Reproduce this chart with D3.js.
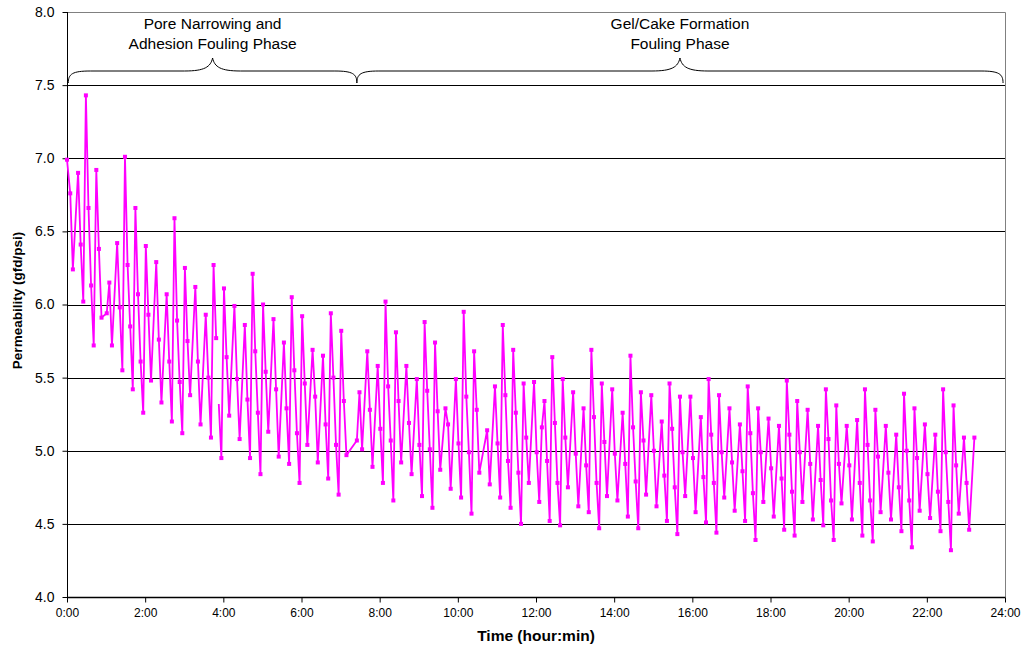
<!DOCTYPE html>
<html>
<head>
<meta charset="utf-8">
<script src="https://cdn.jsdelivr.net/npm/d3@7"></script>
<style>
  html, body { margin: 0; padding: 0; background: #fff; }
  svg { display: block; font-family: "Liberation Sans", Arial, sans-serif; }
</style>
</head>
<body>
<script>
// time since start (minutes); null permeability marks the break in the record
const timeMin = [
  0,5,9,17,21,25,29,33,37,41,
  45,49,53,61,65,69,77,81,85,89,
  93,97,101,105,109,113,117,121,125,129,
  137,141,145,153,157,161,165,169,173,177,
  181,185,189,197,201,205,213,217,221,225,
  229,231,
  233,237,241,245,249,257,261,265,273,277,
  281,285,289,293,297,301,305,309,317,321,
  325,333,337,341,345,349,353,357,361,365,
  369,377,381,385,393,397,401,405,409,413,
  417,421,425,429,445,449,453,461,465,469,
  477,481,485,489,493,497,501,505,509,513,
  521,525,529,537,541,545,549,553,557,561,
  565,569,573,581,585,589,597,601,605,609,
  613,617,621,625,629,633,645,649,657,661,
  665,669,673,677,681,685,689,693,697,701,
  705,709,717,721,725,729,733,737,741,745,
  749,753,757,761,765,769,777,781,785,793,
  797,801,805,809,813,817,821,825,829,837,
  841,845,853,857,861,865,869,873,877,881,
  885,889,897,901,905,913,917,921,925,929,
  933,937,941,945,949,957,961,965,973,977,
  981,985,989,993,997,1001,1005,1009,1017,1021,
  1025,1033,1037,1041,1045,1049,1053,1057,1061,1065,
  1069,1077,1081,1085,1093,1097,1101,1105,1109,1113,
  1117,1121,1125,1129,1137,1141,1145,1153,1157,1161,
  1165,1169,1173,1177,1181,1185,1189,1197,1201,1205,
  1213,1217,1221,1225,1229,1233,1237,1241,1245,1249,
  1257,1261,1265,1273,1277,1281,1285,1289,1293,1297,
  1301,1305,1309,1317,1321,1325,1333,1337,1341,1345,
  1349,1353,1357,1361,1365,1369,1377,1381,1385,1393
];

// permeability (gfd/psi)
const permeability = [
  6.99,6.76,6.24,6.90,6.41,6.02,7.43,6.66,6.13,5.72,
  6.92,6.38,5.91,5.94,6.15,5.72,6.42,5.98,5.55,7.01,
  6.27,5.85,5.42,6.66,6.07,5.61,5.26,6.40,5.93,5.48,
  6.29,5.76,5.33,6.07,5.61,5.20,6.59,5.89,5.47,5.12,
  6.25,5.75,5.38,6.12,5.61,5.18,5.93,5.50,5.09,6.27,
  5.77,null,
  5.32,4.95,6.11,5.64,5.24,5.99,5.49,5.08,5.86,5.35,
  4.95,6.21,5.68,5.26,4.84,6.00,5.54,5.13,5.90,5.42,
  4.96,5.74,5.29,4.91,6.05,5.55,5.12,4.78,5.92,5.46,
  5.04,5.69,5.37,4.92,5.65,5.18,4.81,5.94,5.50,5.04,
  4.70,5.82,5.34,4.97,5.07,5.40,5.01,5.68,5.28,4.89,
  5.58,5.15,4.78,6.02,5.44,5.07,4.66,5.81,5.34,4.92,
  5.58,5.19,4.84,5.49,5.04,4.69,5.88,5.41,5.01,4.61,
  5.74,5.27,4.87,5.29,5.18,4.74,5.49,5.05,4.68,5.95,
  5.37,4.99,4.57,5.68,5.28,4.85,5.14,4.77,5.44,5.05,
  4.68,5.86,5.38,4.93,4.61,5.69,5.26,4.85,4.50,5.46,
  5.09,4.78,5.47,4.99,4.65,5.16,5.34,4.93,4.52,5.64,
  5.19,4.78,4.49,5.49,5.09,4.75,5.40,4.98,4.62,5.29,
  4.90,4.58,5.69,5.23,4.78,4.47,5.46,5.06,4.69,5.42,
  4.98,4.66,5.26,4.91,4.55,5.65,5.16,4.79,4.47,5.40,
  5.07,4.70,5.38,5.00,4.62,5.20,4.83,4.52,5.46,5.15,
  4.75,4.43,5.37,4.99,4.69,5.37,4.95,4.58,5.23,4.82,
  4.51,5.49,5.11,4.78,4.44,5.38,4.99,4.68,5.29,4.92,
  4.59,5.18,4.86,4.52,5.44,5.12,4.71,4.39,5.29,4.99,
  4.65,5.22,4.88,4.55,5.17,4.81,4.46,5.48,5.11,4.72,
  4.42,5.34,4.99,4.65,5.28,4.91,4.53,5.17,4.80,4.49,
  5.42,5.08,4.66,4.39,5.31,4.91,4.64,5.17,4.90,4.53,
  5.21,4.78,4.42,5.42,5.04,4.66,4.38,5.28,4.96,4.58,
  5.17,4.85,4.53,5.11,4.75,4.45,5.39,5.00,4.66,4.34,
  5.29,4.95,4.59,5.18,4.84,4.54,5.11,4.72,4.45,5.42,
  4.99,4.65,4.32,5.31,4.90,4.57,5.09,4.78,4.46,5.09
];

const yTicks = [4.0,4.5,5.0,5.5,6.0,6.5,7.0,7.5,8.0];
const xTicksMin = [0,120,240,360,480,600,720,840,960,1080,1200,1320,1440];

// fouling phases: [start, end] in minutes, label lines
const phaseNames = [["Pore Narrowing and","Adhesion Fouling Phase"],["Gel/Cake Formation","Fouling Phase"]];
const phaseSpans = [[2,445],[445,1437]];

const W = 1026, H = 656;
const pL = 67, pR = 1005, pT = 12, pB = 597;

const svg = d3.select('body').append('svg')
  .attr('width', W)
  .attr('height', H);

const x = d3.scaleLinear().domain([0,1440]).range([pL,pR]);
const y = d3.scaleLinear().domain([4,8]).range([pB,pT]);

const fmt = m => Math.floor(m/60) + ':' + String(m%60).padStart(2,'0');

// gridlines
svg.append('g')
  .selectAll('line')
  .data(yTicks.filter(t => t > 4 && t < 8))
  .enter().append('line')
  .attr('x1', pL).attr('x2', pR)
  .attr('y1', d => Math.round(y(d))+0.5).attr('y2', d => Math.round(y(d))+0.5)
  .attr('stroke', '#000').attr('stroke-width', 1);

// plot frame top/right (gray)
svg.append('path')
  .attr('d', `M${pL},${pT+0.5} H${pR+0.5} V${pB}`)
  .attr('fill','none').attr('stroke','#808080').attr('stroke-width',1);

// y axis
const yAxis = svg.append('g')
  .attr('transform', `translate(${pL+0.5},0)`)
  .call(d3.axisLeft(y).tickValues(yTicks).tickFormat(d3.format('.1f')).tickSize(5).tickPadding(8));
yAxis.select('.domain').attr('stroke','#000').attr('d', `M0,${pT}V${pB+0.5}`);
yAxis.selectAll('.tick line').attr('stroke','#000');
yAxis.selectAll('text').attr('font-size','14px').attr('fill','#000')
  .attr('font-family','"Liberation Sans", Arial, sans-serif');

// x axis
const xAxis = svg.append('g')
  .attr('transform', `translate(0,${pB+0.5})`)
  .call(d3.axisBottom(x).tickValues(xTicksMin).tickFormat(fmt).tickSize(5).tickPadding(6));
xAxis.select('.domain').attr('stroke','#000').attr('stroke-width',1.5).attr('d', `M${pL},0H${pR+0.5}`);
xAxis.selectAll('.tick line').attr('stroke','#000');
xAxis.selectAll('text').attr('font-size','12px').attr('fill','#000')
  .attr('font-family','"Liberation Sans Narrow", "Liberation Sans", Arial, sans-serif');

// axis titles
svg.append('text')
  .attr('x', (pL+pR)/2).attr('y', 641)
  .attr('text-anchor','middle')
  .attr('font-size','15.5px').attr('font-weight','bold')
  .text('Time (hour:min)');

svg.append('text')
  .attr('transform', `translate(22,${(pT+pB)/2-4}) rotate(-90)`)
  .attr('text-anchor','middle')
  .attr('font-size','13.5px').attr('font-weight','bold')
  .text('Permeability (gfd/psi)');

// series
const pts = timeMin.map((t,i) => ({t, v: permeability[i], afterGap: i > 0 && permeability[i-1] == null}));

const line = d3.line()
  .defined(d => d.v != null)
  .x(d => x(d.t))
  .y(d => y(d.v));

svg.append('path')
  .datum(pts)
  .attr('d', line)
  .attr('fill','none')
  .attr('stroke','#FF00FF')
  .attr('stroke-width',1.8)
  .attr('stroke-linejoin','round');

const ms = 4;
svg.append('g')
  .selectAll('rect')
  .data(pts.filter(d => d.v != null && !d.afterGap))
  .enter().append('rect')
  .attr('x', d => x(d.t)-ms/2)
  .attr('y', d => y(d.v)-ms/2)
  .attr('width', ms).attr('height', ms)
  .attr('fill','#FF00FF');

// curly braces over the two phases
function brace(x0, x1, yEnd, yMid, yTip) {
  const p = d3.path();
  const xm = (x0+x1)/2;
  const r = 14, q = 28;
  p.moveTo(x0, yEnd);
  p.bezierCurveTo(x0, yMid+3, x0+4, yMid, x0+r+8, yMid);
  p.lineTo(xm-q, yMid);
  p.bezierCurveTo(xm-8, yMid, xm-2, yMid-4, xm, yTip);
  p.bezierCurveTo(xm+2, yMid-4, xm+8, yMid, xm+q, yMid);
  p.lineTo(x1-r-8, yMid);
  p.bezierCurveTo(x1-4, yMid, x1, yMid+3, x1, yEnd);
  return p.toString();
}

const phases = svg.append('g')
  .selectAll('g')
  .data(phaseSpans.map((s,i) => ({s, names: phaseNames[i]})))
  .enter().append('g');

phases.append('path')
  .attr('d', d => brace(x(d.s[0]), x(d.s[1]), 83, 71, 58))
  .attr('fill','none').attr('stroke','#000').attr('stroke-width',1);

phases.each(function(d) {
  const g = d3.select(this);
  const cx = (x(d.s[0]) + x(d.s[1]))/2;
  d.names.forEach((n,k) => {
    g.append('text')
      .attr('x', cx).attr('y', 29 + k*20)
      .attr('text-anchor','middle')
      .attr('font-size','15.5px')
      .text(n);
  });
});
</script>
</body>
</html>
